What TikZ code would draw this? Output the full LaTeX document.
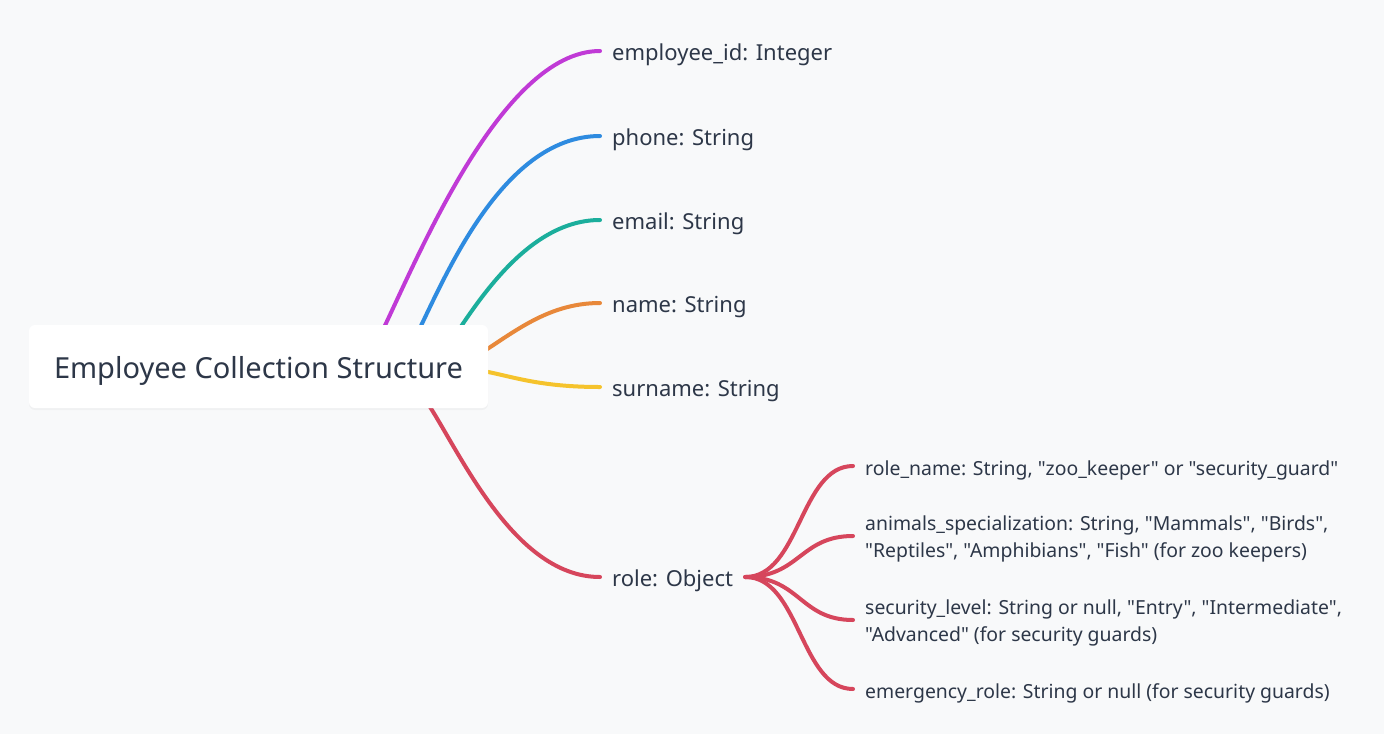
\documentclass[tikz,border=0pt]{standalone}
\usepackage{fontspec}
\newfontfamily\nf{Noto Sans}
\usetikzlibrary{shadows}
\definecolor{bgc}{RGB}{248,249,250}
\definecolor{txt}{RGB}{45,55,72}
\definecolor{cmag}{RGB}{192,58,214}
\definecolor{cblue}{RGB}{46,139,224}
\definecolor{cteal}{RGB}{27,174,156}
\definecolor{corange}{RGB}{232,136,58}
\definecolor{cyellow}{RGB}{245,195,44}
\definecolor{cred}{RGB}{214,70,92}
\begin{document}
\begin{tikzpicture}[x=1pt,y=-1pt,
  branch/.style={line width=4pt,line cap=round},
  leaf/.style={anchor=base west,inner xsep=12pt,inner ysep=0pt,text=txt,font=\nf\fontsize{22}{26}\selectfont},
  subleaf/.style={anchor=base west,inner xsep=12pt,inner ysep=0pt,text=txt,font=\nf\fontsize{19.4}{27}\selectfont},
  subleafm/.style={anchor=west,inner xsep=12pt,inner ysep=0pt,text=txt,font=\nf\fontsize{19.4}{27}\selectfont,align=left},
  rootbox/.style={fill=white,rounded corners=6pt,minimum width=459pt,minimum height=83pt,text=txt,font=\nf\fontsize{29}{32}\selectfont,text height=23pt,text depth=0pt,drop shadow={opacity=0.06,shadow xshift=0pt,shadow yshift=-2pt}}]
\fill[bgc] (0,0) rectangle (1384,734);
\useasboundingbox (0,0) rectangle (1384,734);

% start points (hidden under the root box)
\coordinate (s1) at (378,340);
\coordinate (s2) at (414,340);
\coordinate (s3) at (452,340);
\coordinate (s4) at (470,360);
\coordinate (s5) at (470,369);
\coordinate (s6) at (422,395);

% first-level nodes (placed on their baselines)
\node[leaf] (n1) at (600,60.7) {employee\_id: Integer};
\node[leaf] (n2) at (600,145.7) {phone: String};
\node[leaf] (n3) at (600,229.7) {email: String};
\node[leaf] (n4) at (600,312.7) {name: String};
\node[leaf] (n5) at (600,396.7) {surname: String};
\node[leaf] (n6) at (600,586.7) {role: Object};

% second-level nodes
\node[subleaf] (m1) at (853,475) {role\_name: String, "zoo\_keeper" or "security\_guard"};
\node[subleafm] (m2) at (853,539) {animals\_specialization: String, "Mammals", "Birds",\\"Reptiles", "Amphibians", "Fish" (for zoo keepers)};
\node[subleafm] (m3) at (853,623) {security\_level: String or null, "Entry", "Intermediate",\\"Advanced" (for security guards)};
\node[subleaf] (m4) at (853,698) {emergency\_role: String or null (for security guards)};

% first-level connectors
\draw[branch,cmag] (s1) .. controls (415,265) and (500,51) .. ([yshift=9.7pt]n1.base west);
\draw[branch,cblue] (s2) .. controls (442,285) and (500,136) .. ([yshift=9.7pt]n2.base west);
\draw[branch,cteal] (s3) .. controls (480,298) and (530,220) .. ([yshift=9.7pt]n3.base west);
\draw[branch,corange] (s4) .. controls (510,336) and (545,303) .. ([yshift=9.7pt]n4.base west);
\draw[branch,cyellow] (s5) .. controls (505,373) and (530,387) .. ([yshift=9.7pt]n5.base west);
\draw[branch,cred] (s6) .. controls (455,440) and (510,577) .. ([yshift=9.7pt]n6.base west);

% second-level connectors
\draw[branch,cred] ([yshift=9.7pt]n6.base east) .. controls (800,577) and (800,466) .. ([yshift=9pt]m1.base west);
\draw[branch,cred] ([yshift=9.7pt]n6.base east) .. controls (800,577) and (800,536) .. ([yshift=3pt]m2.west);
\draw[branch,cred] ([yshift=9.7pt]n6.base east) .. controls (800,577) and (800,620) .. ([yshift=3pt]m3.west);
\draw[branch,cred] ([yshift=9.7pt]n6.base east) .. controls (800,577) and (800,689) .. ([yshift=9pt]m4.base west);

% root
\node[rootbox] (root) at (258.5,366.5) {Employee Collection Structure};
\end{tikzpicture}
\end{document}
